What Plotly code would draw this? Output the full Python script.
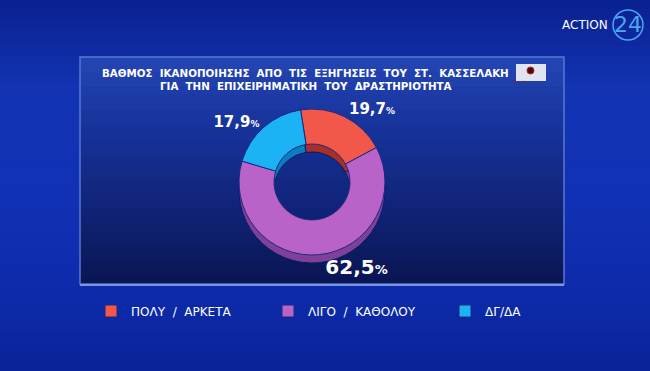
import plotly.graph_objects as go

# ---- data ----
categories = ["ΠΟΛΥ  /  ΑΡΚΕΤΑ", "ΛΙΓΟ  /  ΚΑΘΟΛΟΥ", "ΔΓ/ΔΑ"]
values = [19.7, 62.5, 17.9]
colors = ["#f2574a", "#b962c8", "#1bb3f3"]
side_colors = ["#a8302a", "#80409a", "#0c7cc0"]
label_sizes = [15, 20, 15]
title_lines = ["ΒΑΘΜΟΣ  ΙΚΑΝΟΠΟΙΗΣΗΣ  ΑΠΟ  ΤΙΣ  ΕΞΗΓΗΣΕΙΣ  ΤΟΥ  ΣΤ.  ΚΑΣΣΕΛΑΚΗ",
               "ΓΙΑ  ΤΗΝ  ΕΠΙΧΕΙΡΗΜΑΤΙΚΗ  ΤΟΥ  ΔΡΑΣΤΗΡΙΟΤΗΤΑ"]

W, H = 650, 371


def px_x(x):
    return x / W


def px_y(y):
    return 1 - y / H


def hex2rgb(h):
    h = h.lstrip("#")
    return [int(h[i:i + 2], 16) for i in (0, 2, 4)]


def gradient(stops, n):
    """stops: list of (pos, hex). returns n colours."""
    out = []
    for k in range(n):
        t = (k + 0.5) / n
        for (p0, c0), (p1, c1) in zip(stops[:-1], stops[1:]):
            if p0 <= t <= p1:
                f = (t - p0) / (p1 - p0) if p1 > p0 else 0
                a, b = hex2rgb(c0), hex2rgb(c1)
                rgb = [round(a[i] + (b[i] - a[i]) * f) for i in range(3)]
                out.append("rgb(%d,%d,%d)" % tuple(rgb))
                break
    return out


labels_txt = [
    f"{v:.1f}".replace(".", ",") + f"<span style='font-size:{int(s*0.65)}px'>%</span>"
    for v, s in zip(values, label_sizes)
]

cx, cy, r = 312, 182, 73
depth = 8
rot = -9

fig = go.Figure()

# depth (side) of the donut
fig.add_trace(go.Pie(
    labels=categories, values=values, hole=0.52, sort=False,
    direction="clockwise", rotation=rot,
    marker=dict(colors=side_colors, line=dict(color="#0a1a60", width=1)),
    textinfo="none", showlegend=False, hoverinfo="skip",
    domain=dict(x=[px_x(cx - r), px_x(cx + r)],
                y=[px_y(cy + depth + r), px_y(cy + depth - r)]),
))

# top face
fig.add_trace(go.Pie(
    labels=categories, values=values, hole=0.52, sort=False,
    direction="clockwise", rotation=rot,
    marker=dict(colors=colors, line=dict(color="#1a2a80", width=1)),
    text=labels_txt, textinfo="text", textposition="outside",
    textfont=dict(family="DejaVu Sans", color="white", size=label_sizes, weight="bold"),
    showlegend=True,
    domain=dict(x=[px_x(cx - r), px_x(cx + r)],
                y=[px_y(cy + r), px_y(cy - r)]),
))

shapes = []
# background gradient bands (full canvas)
bg = gradient([(0, "#0a2090"), (0.25, "#1234b4"), (0.55, "#1131b4"), (0.8, "#0d2aaa"), (1, "#0a2398")], 40)
n = len(bg)
for i, c in enumerate(bg):
    shapes.append(dict(type="rect", xref="paper", yref="paper",
                       x0=0, x1=1, y0=1 - (i + 1) / n, y1=1 - i / n + 0.002,
                       fillcolor=c, line=dict(width=0), layer="below"))

# panel with vertical gradient
px0, px1, py0, py1 = 80, 564, 57, 284
pb = gradient([(0, "#2446b4"), (0.3, "#17339c"), (0.7, "#0f2274"), (1, "#0a1552")], 30)
m = len(pb)
for i, c in enumerate(pb):
    ya = py0 + (py1 - py0) * i / m
    yb = py0 + (py1 - py0) * (i + 1) / m
    shapes.append(dict(type="rect", xref="paper", yref="paper",
                       x0=px_x(px0), x1=px_x(px1), y0=px_y(yb + 0.5), y1=px_y(ya),
                       fillcolor=c, line=dict(width=0), layer="below"))
# panel border
shapes.append(dict(type="rect", xref="paper", yref="paper",
                   x0=px_x(px0), x1=px_x(px1), y0=px_y(py1), y1=px_y(py0),
                   fillcolor="rgba(0,0,0,0)", line=dict(color="#5a78d0", width=1.5), layer="below"))
shapes.append(dict(type="line", xref="paper", yref="paper",
                   x0=px_x(px0), x1=px_x(px1), y0=px_y(py1 + 1), y1=px_y(py1 + 1),
                   line=dict(color="#7d95e0", width=2), layer="below"))

# OpinionPoll logo
shapes.append(dict(type="rect", xref="paper", yref="paper",
                   x0=px_x(516), x1=px_x(546), y0=px_y(81), y1=px_y(64),
                   fillcolor="#dfe4f0", line=dict(width=0)))
shapes.append(dict(type="circle", xref="paper", yref="paper",
                   x0=px_x(527), x1=px_x(534), y0=px_y(74), y1=px_y(67),
                   fillcolor="#4a0a10", line=dict(color="#c02020", width=1)))
# ACTION24 circle
shapes.append(dict(type="circle", xref="paper", yref="paper",
                   x0=px_x(613), x1=px_x(643), y0=px_y(40), y1=px_y(10),
                   fillcolor="rgba(0,0,0,0)", line=dict(color="#4aa6f0", width=1.5)))

annotations = [
    dict(text=title_lines[0], x=px_x(305), y=px_y(73), xref="paper", yref="paper",
         showarrow=False, xanchor="center", yanchor="middle",
         font=dict(family="DejaVu Sans", size=10.3, color="white", weight="bold")),
    dict(text=title_lines[1], x=px_x(306), y=px_y(86), xref="paper", yref="paper",
         showarrow=False, xanchor="center", yanchor="middle",
         font=dict(family="DejaVu Sans", size=10.3, color="white", weight="bold")),
    dict(text="OpinionPoll", x=px_x(531), y=px_y(78), xref="paper", yref="paper",
         showarrow=False, font=dict(family="DejaVu Sans", size=3, color="#8a2020")),
    dict(text="ACTION", x=px_x(610), y=px_y(25), xref="paper", yref="paper",
         showarrow=False, xanchor="right", yanchor="middle",
         font=dict(family="DejaVu Sans", size=12, color="white")),
    dict(text="24", x=px_x(628), y=px_y(25), xref="paper", yref="paper",
         showarrow=False, xanchor="center", yanchor="middle",
         font=dict(family="DejaVu Sans", size=22, color="#4aa6f0")),
]

fig.update_layout(
    width=W, height=H,
    margin=dict(l=0, r=0, t=0, b=0),
    paper_bgcolor="#0c27a3",
    plot_bgcolor="rgba(0,0,0,0)",
    shapes=shapes,
    annotations=annotations,
    showlegend=True,
    legend=dict(orientation="h", x=px_x(91), y=px_y(311), xanchor="left", yanchor="middle",
                entrywidth=132, entrywidthmode="pixels", itemwidth=30,
                font=dict(family="DejaVu Sans", size=12, color="white"),
                bgcolor="rgba(0,0,0,0)", traceorder="normal", itemclick=False),
)

fig.write_html("out.html")
